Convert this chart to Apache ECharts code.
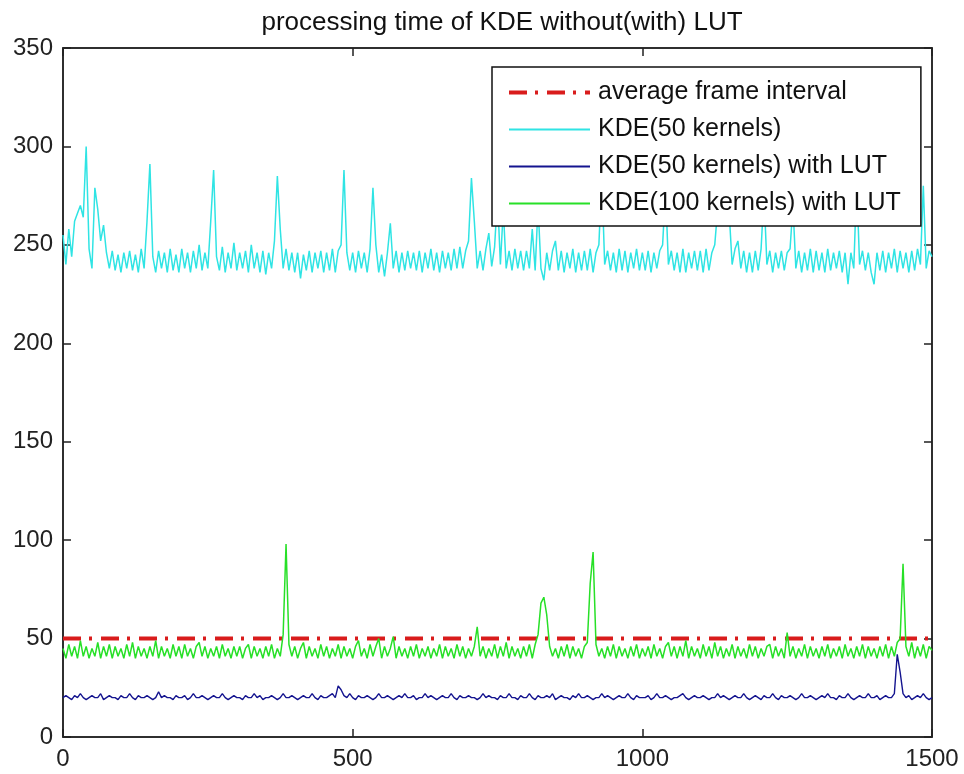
<!DOCTYPE html>
<html>
<head>
<meta charset="utf-8">
<script src="https://cdn.jsdelivr.net/npm/echarts@6/dist/echarts.min.js"></script>
<style>
  html, body { margin: 0; padding: 0; background: #fff; }
  #container { width: 964px; height: 774px; }
</style>
</head>
<body>
<div id="container"></div>
<script>
var dom = document.getElementById("container");
var myChart = echarts.init(dom);

// one sample every STEP frames
var STEP = 5;

var seriesNames = ['average frame interval', 'KDE(50 kernels)', 'KDE(50 kernels) with LUT', 'KDE(100 kernels) with LUT'];
var xTicks = [0, 500, 1000, 1500];
var yTicks = [0, 50, 100, 150, 200, 250, 300, 350];

var avgInterval = [50, 50];
var avgFrames = [0, 1500];

var kde50 = [
    255, 240, 258, 244, 262, 266, 270, 264, 300, 248, 238, 279, 268, 252, 260, 246, 238, 247, 237, 245,
    236, 246, 238, 247, 237, 245, 236, 248, 238, 262, 291, 244, 236, 247, 238, 246, 236, 248, 237, 245,
    236, 248, 238, 246, 236, 247, 238, 250, 237, 246, 238, 262, 288, 244, 237, 249, 236, 246, 238, 251,
    237, 246, 238, 247, 236, 250, 238, 246, 236, 247, 235, 246, 238, 252, 285, 258, 238, 248, 237, 246,
    236, 246, 233, 245, 237, 247, 236, 246, 238, 247, 236, 246, 237, 248, 236, 247, 250, 288, 246, 237,
    246, 236, 247, 238, 246, 236, 248, 279, 250, 236, 245, 234, 246, 261, 238, 247, 236, 246, 237, 247,
    238, 246, 237, 247, 236, 246, 238, 248, 237, 246, 236, 247, 238, 246, 237, 248, 238, 249, 238, 247,
    252, 284, 262, 238, 247, 237, 248, 256, 239, 249, 275, 240, 268, 238, 247, 237, 248, 238, 247, 237,
    247, 238, 258, 237, 270, 238, 232, 246, 237, 247, 252, 237, 247, 236, 246, 238, 248, 236, 246, 237,
    247, 237, 248, 236, 246, 250, 285, 240, 247, 237, 246, 236, 248, 237, 247, 236, 246, 238, 248, 237,
    246, 237, 247, 236, 246, 238, 247, 250, 278, 240, 247, 237, 246, 236, 248, 236, 246, 238, 247, 237,
    247, 236, 248, 237, 246, 250, 268, 275, 262, 272, 266, 240, 248, 252, 238, 247, 236, 246, 236, 247,
    237, 248, 276, 240, 247, 236, 246, 238, 247, 237, 246, 248, 270, 238, 247, 236, 246, 237, 248, 236,
    247, 237, 246, 236, 248, 237, 246, 238, 247, 236, 246, 230, 246, 238, 282, 240, 247, 237, 246, 236,
    230, 246, 237, 247, 236, 246, 238, 248, 236, 247, 238, 246, 236, 247, 237, 248, 240, 280, 238, 247,
    244
];

var kde50Lut = [
    20, 21, 20, 19, 21, 20, 22, 20, 19, 20, 21, 20, 20, 22, 19, 20, 21, 20, 20, 19,
    21, 20, 20, 22, 20, 19, 21, 20, 20, 21, 20, 19, 20, 23, 20, 21, 20, 20, 19, 21,
    20, 20, 21, 19, 20, 22, 20, 20, 21, 20, 19, 20, 21, 20, 20, 22, 20, 19, 20, 21,
    20, 20, 19, 21, 20, 20, 22, 20, 21, 19, 20, 20, 21, 20, 19, 20, 22, 20, 20, 21,
    20, 19, 20, 21, 20, 20, 22, 20, 19, 21, 20, 20, 21, 22, 20, 26, 24, 21, 20, 22,
    20, 19, 21, 20, 20, 21, 20, 19, 20, 22, 20, 20, 21, 20, 19, 20, 21, 20, 22, 20,
    20, 21, 19, 20, 20, 22, 20, 21, 20, 19, 20, 21, 20, 20, 22, 20, 19, 21, 20, 20,
    21, 20, 20, 19, 20, 22, 20, 21, 20, 20, 19, 21, 20, 20, 22, 20, 20, 19, 21, 20,
    20, 22, 20, 19, 21, 20, 20, 21, 20, 22, 19, 20, 21, 20, 20, 19, 21, 20, 22, 20,
    20, 21, 20, 19, 20, 20, 22, 20, 21, 20, 19, 20, 21, 20, 20, 22, 20, 19, 21, 20,
    20, 20, 21, 19, 20, 22, 20, 20, 21, 20, 19, 20, 20, 21, 22, 20, 19, 20, 21, 20,
    20, 21, 20, 19, 20, 20, 22, 20, 21, 20, 19, 20, 21, 20, 20, 22, 20, 19, 20, 21,
    20, 19, 21, 20, 20, 22, 20, 19, 21, 20, 20, 21, 20, 19, 20, 22, 20, 20, 21, 20,
    19, 20, 21, 20, 22, 20, 20, 19, 21, 20, 20, 22, 20, 19, 20, 21, 20, 20, 22, 20,
    20, 21, 19, 20, 21, 20, 20, 22, 42, 33, 22, 20, 21, 19, 20, 21, 20, 22, 20, 19,
    20
];

var kde100Lut = [
    45, 40, 47, 41, 46, 40, 49, 41, 46, 40, 45, 41, 48, 40, 46, 41, 47, 40, 46, 41,
    45, 40, 47, 41, 48, 40, 46, 41, 45, 40, 46, 41, 49, 40, 46, 41, 45, 40, 47, 41,
    46, 40, 47, 41, 45, 40, 46, 48, 41, 46, 40, 45, 41, 46, 40, 47, 41, 45, 40, 46,
    41, 46, 40, 45, 47, 40, 46, 41, 45, 40, 46, 41, 47, 40, 45, 41, 52, 98, 47, 41,
    46, 40, 45, 48, 40, 46, 41, 45, 40, 47, 41, 46, 40, 45, 41, 47, 40, 46, 41, 45,
    40, 46, 49, 41, 45, 40, 47, 41, 46, 50, 40, 46, 41, 45, 51, 40, 46, 41, 45, 40,
    46, 41, 47, 40, 45, 41, 46, 40, 45, 41, 47, 40, 46, 41, 45, 40, 47, 41, 46, 40,
    45, 41, 46, 56, 41, 46, 40, 45, 41, 47, 40, 46, 41, 48, 40, 46, 41, 45, 40, 46,
    41, 47, 40, 47, 52, 68, 71, 62, 46, 41, 45, 40, 46, 41, 47, 40, 46, 41, 45, 40,
    46, 48, 78, 94, 47, 41, 45, 40, 46, 41, 47, 40, 46, 41, 45, 40, 46, 41, 47, 40,
    45, 41, 46, 40, 47, 41, 45, 40, 46, 48, 41, 46, 40, 46, 41, 49, 40, 46, 41, 45,
    40, 47, 41, 46, 40, 48, 41, 46, 40, 45, 41, 47, 40, 46, 41, 45, 40, 47, 41, 46,
    40, 45, 41, 46, 47, 40, 46, 41, 45, 40, 53, 41, 46, 40, 45, 41, 47, 40, 46, 41,
    45, 40, 46, 41, 47, 40, 45, 41, 46, 40, 47, 41, 45, 40, 46, 41, 47, 40, 46, 41,
    45, 40, 46, 41, 47, 40, 46, 41, 48, 50, 88, 46, 41, 48, 40, 46, 41, 47, 40, 46,
    44
];

function toPoints(values) {
    return values.map(function (v, i) {
        return [i * STEP, v];
    });
}

var axisColor = '#222';
var fontName = 'Liberation Sans, Arial, sans-serif';
var colors = ['#d91c1c', '#2fe4e4', '#14148f', '#27e027'];

option = {
    backgroundColor: '#fff',
    animation: false,
    title: {
        text: 'processing time of KDE without(with) LUT',
        left: 497,
        textAlign: 'center',
        top: 5,
        textStyle: {
            fontFamily: fontName,
            fontWeight: 'normal',
            fontSize: 26,
            color: '#111'
        }
    },
    legend: {
        data: [
            { name: seriesNames[0], lineStyle: { width: 4 } },
            { name: seriesNames[1] },
            { name: seriesNames[2] },
            { name: seriesNames[3] }
        ],
        orient: 'vertical',
        left: 492,
        top: 67,
        padding: [13, 20, 10, 15],
        itemWidth: 81,
        itemHeight: 14,
        itemGap: 12,
        backgroundColor: '#fff',
        borderColor: '#111',
        borderWidth: 1.5,
        borderRadius: 0,
        selectedMode: false,
        itemStyle: { opacity: 0 },
        lineStyle: { width: 2 },
        textStyle: {
            fontFamily: fontName,
            fontSize: 25,
            color: '#111',
            padding: [0, 0, 0, 3]
        }
    },
    grid: {
        left: 63,
        right: 32,
        top: 48,
        bottom: 37,
        show: true,
        borderColor: axisColor,
        borderWidth: 1.5,
        backgroundColor: '#fff'
    },
    xAxis: [{
        type: 'value',
        min: xTicks[0],
        max: xTicks[xTicks.length - 1],
        interval: 500,
        axisLine: { onZero: false, lineStyle: { color: axisColor, width: 1.5 } },
        axisTick: { inside: true, length: 8, lineStyle: { color: axisColor, width: 1.5 } },
        splitLine: { show: false },
        axisLabel: {
            fontFamily: fontName, fontSize: 24, color: '#222', margin: 10,
            formatter: function (v) { return String(v); }
        }
    }, {
        type: 'value',
        position: 'top',
        min: xTicks[0],
        max: xTicks[xTicks.length - 1],
        interval: 500,
        axisLine: { onZero: false, lineStyle: { color: axisColor, width: 1.5 } },
        axisTick: { inside: true, length: 8, lineStyle: { color: axisColor, width: 1.5 } },
        splitLine: { show: false },
        axisLabel: { show: false }
    }],
    yAxis: [{
        type: 'value',
        min: yTicks[0],
        max: yTicks[yTicks.length - 1],
        interval: 50,
        axisLine: { show: true, onZero: false, lineStyle: { color: axisColor, width: 1.5 } },
        axisTick: { show: true, inside: true, length: 8, lineStyle: { color: axisColor, width: 1.5 } },
        splitLine: { show: false },
        axisLabel: { fontFamily: fontName, fontSize: 24, color: '#222', margin: 10 }
    }, {
        type: 'value',
        position: 'right',
        min: yTicks[0],
        max: yTicks[yTicks.length - 1],
        interval: 50,
        axisLine: { show: true, onZero: false, lineStyle: { color: axisColor, width: 1.5 } },
        axisTick: { show: true, inside: true, length: 8, lineStyle: { color: axisColor, width: 1.5 } },
        splitLine: { show: false },
        axisLabel: { show: false }
    }],
    series: [{
        name: seriesNames[0],
        type: 'line',
        data: avgFrames.map(function (f, i) { return [f, avgInterval[i]]; }),
        symbol: 'none',
        z: 2,
        lineStyle: { color: colors[0], width: 4, type: [18, 8, 3, 9] },
        itemStyle: { color: colors[0] }
    }, {
        name: seriesNames[1],
        type: 'line',
        data: toPoints(kde50),
        symbol: 'none',
        z: 3,
        lineStyle: { color: colors[1], width: 1.5 },
        itemStyle: { color: colors[1] }
    }, {
        name: seriesNames[2],
        type: 'line',
        data: toPoints(kde50Lut),
        symbol: 'none',
        z: 3,
        lineStyle: { color: colors[2], width: 1.4 },
        itemStyle: { color: colors[2] }
    }, {
        name: seriesNames[3],
        type: 'line',
        data: toPoints(kde100Lut),
        symbol: 'none',
        z: 3,
        lineStyle: { color: colors[3], width: 1.5 },
        itemStyle: { color: colors[3] }
    }]
};

myChart.setOption(option);
</script>
</body>
</html>
